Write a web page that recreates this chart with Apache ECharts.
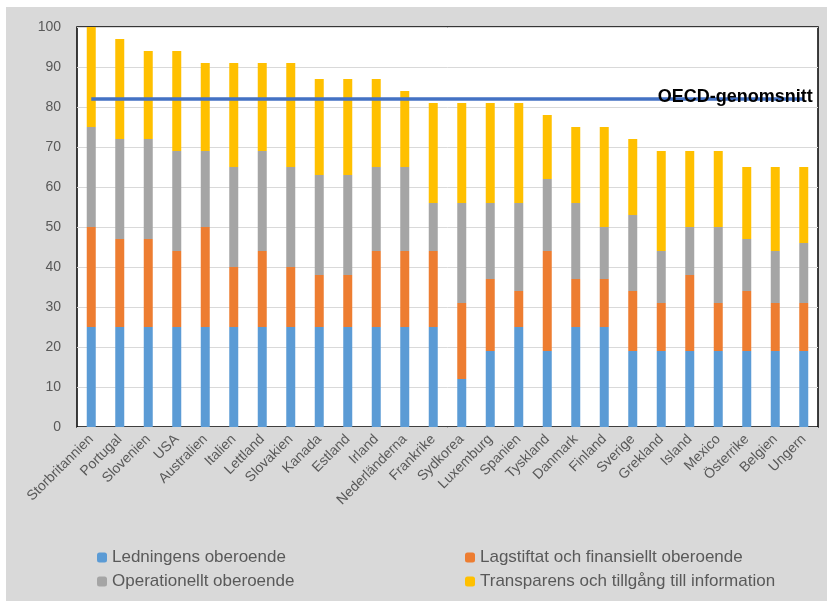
<!DOCTYPE html>
<html>
<head>
<meta charset="utf-8">
<script src="https://cdn.jsdelivr.net/npm/echarts@6/dist/echarts.min.js"></script>
<style>
html,body{margin:0;padding:0;background:#ffffff;width:827px;height:601px;overflow:hidden;}
#chart{position:absolute;left:6px;top:7px;width:821px;height:594px;background:#d9d9d9;}
</style>
</head>
<body>
<div id="chart"></div>
<script>
const categories = ["Storbritannien","Portugal","Slovenien","USA","Australien","Italien","Lettland","Slovakien","Kanada","Estland","Irland","Nederländerna","Frankrike","Sydkorea","Luxemburg","Spanien","Tyskland","Danmark","Finland","Sverige","Grekland","Island","Mexico","Österrike","Belgien","Ungern"];
const ledningens     = [25,25,25,25,25,25,25,25,25,25,25,25,25,12,19,25,19,25,25,19,19,19,19,19,19,19];
const lagstiftat     = [25,22,22,19,25,15,19,15,13,13,19,19,19,19,18, 9,25,12,12,15,12,19,12,15,12,12];
const operationellt  = [25,25,25,25,19,25,25,25,25,25,21,21,12,25,19,22,18,19,13,19,13,12,19,13,13,15];
const transparens    = [25,25,22,25,22,26,22,26,24,24,22,19,25,25,25,25,16,19,25,19,25,19,19,18,21,19];
const oecdAverage = 82;
const yTicks = {min:0, max:100, interval:10};
const seriesNames = ["Ledningens oberoende","Lagstiftat och finansiellt oberoende","Operationellt oberoende","Transparens och tillgång till information"];
const colors = ["#5b9bd5","#ed7d31","#a5a5a5","#ffc000"];
const oecdLabel = "OECD-genomsnitt";

const font = "'Liberation Sans', Arial, sans-serif";
const chart = echarts.init(document.getElementById('chart'));
const values = [ledningens, lagstiftat, operationellt, transparens];
const barSeries = seriesNames.map((n,i)=>({
  name:n, type:'bar', stack:'total', data:values[i], barWidth:9,
  itemStyle:{color:colors[i]}, emphasis:{disabled:true}
}));
const oecdData = categories.map(()=>oecdAverage);
const legendText = {color:'#595959', fontSize:17, fontFamily:font, lineHeight:17};
chart.setOption({
  animation:false,
  backgroundColor:'#d9d9d9',
  grid:{left:71, right:9, top:20, bottom:174, show:true, backgroundColor:'#ffffff', borderColor:'#000000', borderWidth:1.5},
  xAxis:{type:'category', data:categories,
    axisLine:{show:false}, axisTick:{show:false},
    axisLabel:{interval:0, rotate:45, color:'#595959', fontSize:14, fontFamily:font, margin:10}},
  yAxis:{type:'value', min:yTicks.min, max:yTicks.max, interval:yTicks.interval,
    axisLine:{show:false}, axisTick:{show:false},
    splitLine:{lineStyle:{color:'#d9d9d9', width:1}},
    axisLabel:{color:'#595959', fontSize:14, fontFamily:font, margin:16}},
  legend:[
    {data:[seriesNames[0],seriesNames[2]], orient:'vertical', left:91, top:542, padding:0, itemWidth:10, itemHeight:10, itemGap:7,
     textStyle:legendText, selectedMode:false},
    {data:[seriesNames[1],seriesNames[3]], orient:'vertical', left:459, top:542, padding:0, itemWidth:10, itemHeight:10, itemGap:7,
     textStyle:legendText, selectedMode:false}
  ],
  series:[...barSeries, {
    name:oecdLabel, type:'line', data:oecdData, symbol:'none',
    lineStyle:{color:'#4472c4', width:3.5}, z:5, emphasis:{disabled:true},
    endLabel:{show:true, formatter:oecdLabel, align:'right', verticalAlign:'middle', distance:9, offset:[0,-2],
      color:'#000', fontWeight:'bold', fontSize:18, fontFamily:font}
  }]
});
</script>
</body>
</html>
